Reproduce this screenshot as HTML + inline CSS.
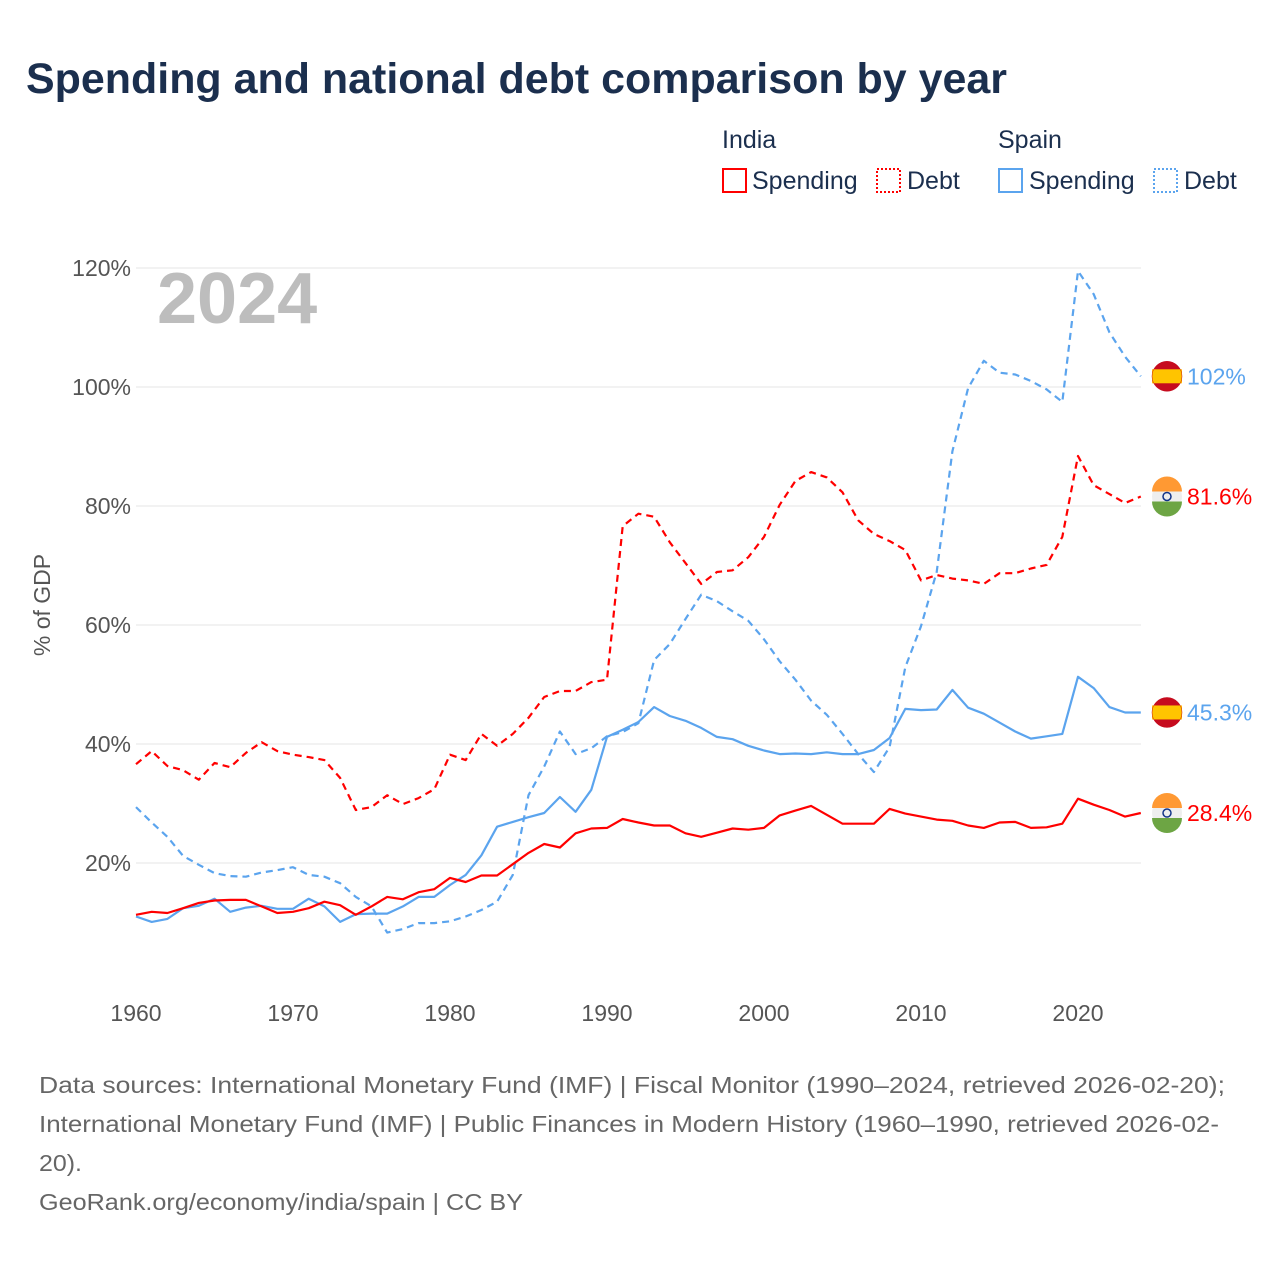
<!DOCTYPE html>
<html><head><meta charset="utf-8"><style>
body{margin:0;background:#fff;font-family:"Liberation Sans",sans-serif;}
</style></head><body>
<svg width="1280" height="1280" viewBox="0 0 1280 1280" xmlns="http://www.w3.org/2000/svg" style="font-family:'Liberation Sans',sans-serif">
<text x="26" y="93" font-size="42.5" font-weight="bold" fill="#1b2f4e" textLength="981" lengthAdjust="spacingAndGlyphs">Spending and national debt comparison by year</text>
<g font-size="25" fill="#1b2f4e">
<text x="722" y="148">India</text>
<text x="998" y="148">Spain</text>
<g><rect x="723" y="169" width="23" height="23" fill="none" stroke="#f00" stroke-width="2"/><text x="752" y="189">Spending</text></g>
<g><rect x="877" y="169" width="23" height="23" fill="none" stroke="#f00" stroke-width="2" stroke-dasharray="2,2"/><text x="907" y="189">Debt</text></g>
<g><rect x="999" y="169" width="23" height="23" fill="none" stroke="#5ba4ee" stroke-width="2"/><text x="1029" y="189">Spending</text></g>
<g><rect x="1154" y="169" width="23" height="23" fill="none" stroke="#5ba4ee" stroke-width="2" stroke-dasharray="2,2"/><text x="1184" y="189">Debt</text></g>
</g>
<g id="grid"></g>
<text x="157" y="323" font-size="72" font-weight="bold" fill="#bdbdbd">2024</text>
<text transform="translate(50,605) rotate(-90)" text-anchor="middle" font-size="23" fill="#555">% of GDP</text>
<g id="series"></g>
<g id="ends"></g>
<g font-size="23" fill="#666">
<text x="39" y="1093" textLength="1186" lengthAdjust="spacingAndGlyphs">Data sources: International Monetary Fund (IMF) | Fiscal Monitor (1990–2024, retrieved 2026-02-20);</text>
<text x="39" y="1132" textLength="1180" lengthAdjust="spacingAndGlyphs">International Monetary Fund (IMF) | Public Finances in Modern History (1960–1990, retrieved 2026-02-</text>
<text x="39" y="1171" textLength="43" lengthAdjust="spacingAndGlyphs">20).</text>
<text x="39" y="1210" textLength="484" lengthAdjust="spacingAndGlyphs">GeoRank.org/economy/india/spain | CC BY</text>
</g>
</svg>
<script>
const years = Array.from({length:65},(_,i)=>1960+i);
const indiaSpending = [11.3,11.8,11.6,12.4,13.3,13.7,13.8,13.8,12.7,11.6,11.8,12.4,13.5,12.9,11.3,12.7,14.3,13.9,15.1,15.6,17.5,16.8,17.9,17.9,19.8,21.7,23.2,22.6,25,25.8,25.9,27.4,26.8,26.3,26.3,25,24.4,25.1,25.8,25.6,25.9,28,28.8,29.6,28.1,26.6,26.6,26.6,29.1,28.3,27.8,27.3,27.1,26.3,25.9,26.8,26.9,25.9,26,26.6,30.8,29.8,28.9,27.8,28.4];
const indiaDebt = [36.6,38.8,36.3,35.6,34,36.8,36.1,38.5,40.3,38.8,38.2,37.8,37.3,34.3,28.9,29.4,31.4,29.9,30.9,32.4,38.2,37.3,41.7,39.7,41.7,44.4,47.9,48.9,48.9,50.4,50.8,76.6,78.7,78.2,73.9,70.4,66.9,68.9,69.2,71.4,74.8,80.2,84.2,85.7,84.8,82.3,77.6,75.3,74.1,72.6,67.5,68.4,67.8,67.5,66.9,68.7,68.7,69.5,70.1,74.8,88.4,83.5,82,80.5,81.6];
const spainSpending = [11,10.1,10.6,12.4,12.8,14,11.8,12.5,12.8,12.3,12.3,14,12.7,10.1,11.4,11.5,11.5,12.7,14.3,14.3,16.3,18,21.3,26.1,26.9,27.7,28.4,31.1,28.6,32.3,41.2,42.4,43.7,46.2,44.7,43.9,42.7,41.2,40.8,39.7,38.9,38.3,38.4,38.3,38.6,38.3,38.3,39,41,45.9,45.7,45.8,49.1,46.1,45.1,43.6,42.1,40.9,41.3,41.7,51.3,49.4,46.2,45.3,45.3];
const spainDebt = [29.4,26.8,24.4,21.2,19.7,18.3,17.8,17.7,18.4,18.8,19.3,18,17.7,16.6,14.3,12.7,8.3,8.9,9.9,9.9,10.2,11,12.1,13.5,18,31.4,36.2,42.1,38.3,39.3,41.3,42,43.5,54.1,56.8,61,65.1,64,62.3,60.7,57.6,53.9,50.8,47.3,44.9,41.7,38.3,35.3,39.5,52.9,59.8,68.9,89.2,99.8,104.4,102.4,102.1,101,99.6,97.5,119.5,115.6,109.2,105.1,101.8];
const yTicks = [20,40,60,80,100,120];
const xTicks = [1960,1970,1980,1990,2000,2010,2020];
const endLabels = ["102%","81.6%","45.3%","28.4%"];

const NS="http://www.w3.org/2000/svg";
const X = yr => 136 + (yr-1960)*15.7;
const Y = v => 982 - v*5.95;
function mk(tag, attrs, parent){const e=document.createElementNS(NS,tag);for(const k in attrs)e.setAttribute(k,attrs[k]);parent.appendChild(e);return e;}
const grid=document.getElementById('grid');
yTicks.forEach(t=>{
  const l=mk('line',{x1:136,x2:1141,y1:Y(t),y2:Y(t),stroke:'#e6e6e6','stroke-width':1},grid);
  
  
  const tx=mk('text',{x:131,y:Y(t)+8,'text-anchor':'end','font-size':23,fill:'#555'},grid);
  tx.textContent=t+'%';
  
  
});
xTicks.forEach(t=>{
  const tx=mk('text',{x:X(t),y:1021,'text-anchor':'middle','font-size':23,fill:'#555'},grid);
  tx.textContent=t;
  
  
});
const ser=document.getElementById('series');
function line(vals,color,dash,name){
  const d=vals.map((v,i)=>(i?'L':'M')+X(years[i]).toFixed(1)+','+Y(v).toFixed(1)).join('');
  const p=mk('path',{d:d,fill:'none',stroke:color,'stroke-width':2.2,'stroke-linejoin':'round'},ser);
  if(dash)p.setAttribute('stroke-dasharray','7,5');
  
  
}
line(spainDebt,'#5ba4ee',true,'spain-debt-line');
line(indiaDebt,'#f00',true,'india-debt-line');
line(spainSpending,'#5ba4ee',false,'spain-spending-line');
line(indiaSpending,'#f00',false,'india-spending-line');
const ends=document.getElementById('ends');
const endSeries=[[spainDebt,'spain','#5ba4ee'],[indiaDebt,'india','#f00'],[spainSpending,'spain','#5ba4ee'],[indiaSpending,'india','#f00']];
endSeries.forEach((s,i)=>{
  const v=s[0][s[0].length-1], cy=Y(v), cx=1167;
  const g=mk('g',{},ends);
  
  
  if(s[1]==='spain'){
    mk('circle',{cx:cx,cy:cy,r:15,fill:'#c60b1e'},g);
    mk('rect',{x:cx-15,y:cy-7,width:30,height:14,fill:'#ffc400'},g);
    mk('circle',{cx:cx,cy:cy,r:15,fill:'none',stroke:'#c60b1e','stroke-width':0.5},g);
  } else {
    mk('circle',{cx:cx,cy:cy,r:15,fill:'#eee'},g);
    mk('path',{d:`M${cx-15},${cy-5} A15,15 0 0 1 ${cx+15},${cy-5} Z`,fill:'#ff9933'},g);
    mk('path',{d:`M${cx-15},${cy+5} A15,15 0 0 0 ${cx+15},${cy+5} Z`,fill:'#6da544'},g);
    mk('circle',{cx:cx,cy:cy,r:4,fill:'none',stroke:'#138',"stroke-width":1.5},g);
  }
  const t=mk('text',{x:1187,y:cy+8,'font-size':23,fill:s[2]},ends);
  t.textContent=endLabels[i];
  
  
});
</script>
</body></html>
